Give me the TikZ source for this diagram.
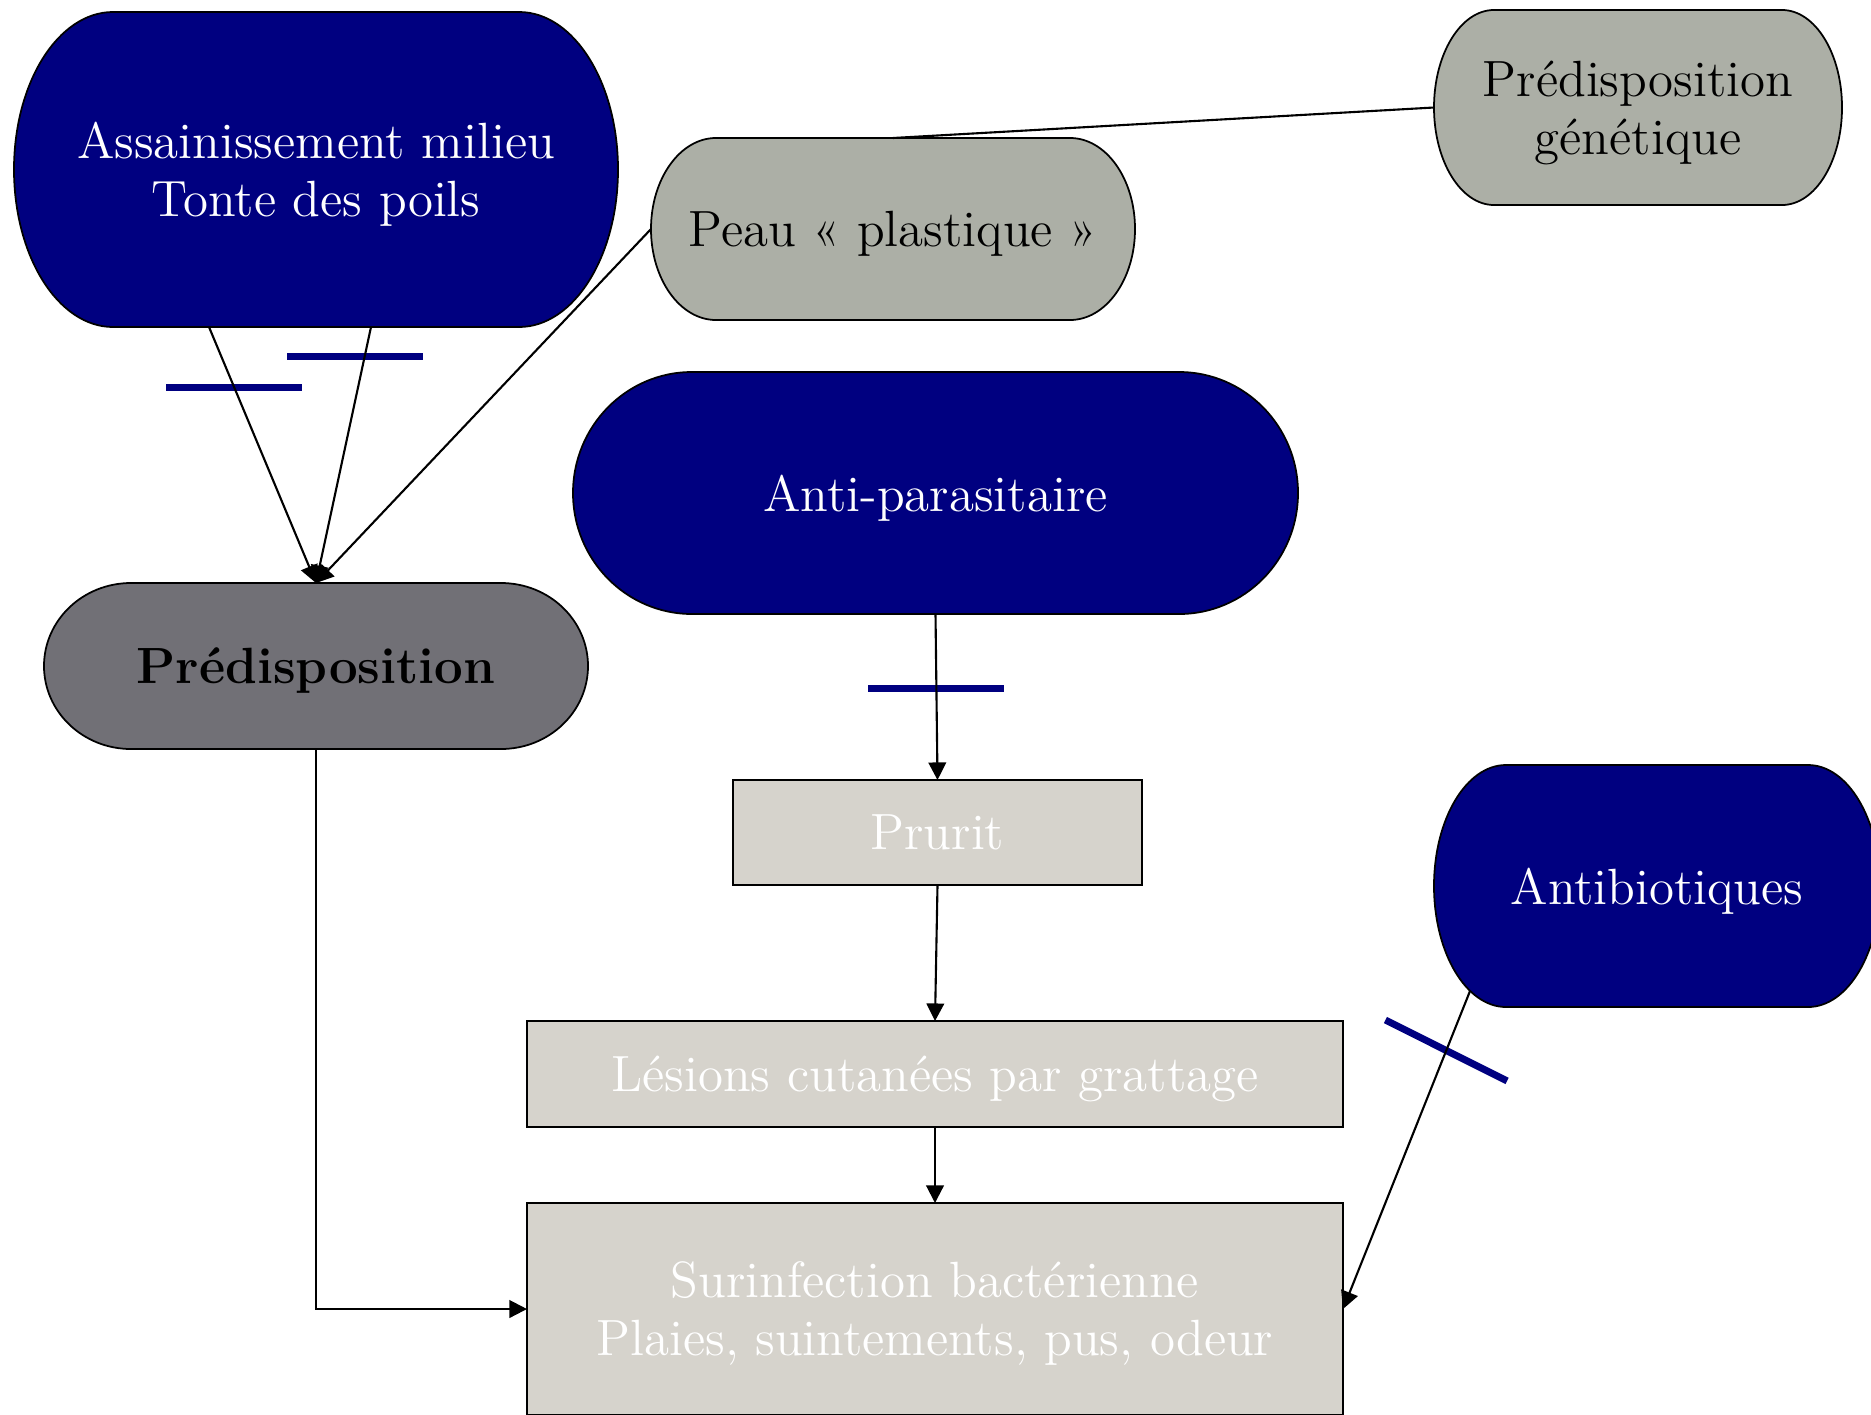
\documentclass[tikz,border=0pt]{standalone}
\usepackage{tikz}
\usetikzlibrary{arrows.meta, calc, backgrounds}

\definecolor{navyblue}{RGB}{0,0,128}
\definecolor{skingray}{RGB}{172,175,166}
\definecolor{preddark}{RGB}{113,112,118}
\definecolor{boxgray}{RGB}{214,211,204}

% oval with elliptic ends behind a node: node, x radius, y radius, colour
\newcommand{\drawoval}[4]{%
  \filldraw[fill=#4, draw=black, line width=0.5pt]
    (#1.north) -- ($(#1.north east)+(-#2,0)$)
    arc[start angle=90, end angle=-90, x radius=#2, y radius=#3]
    -- ($(#1.south west)+(#2,0)$)
    arc[start angle=270, end angle=90, x radius=#2, y radius=#3] -- cycle;}

\begin{document}
\begin{tikzpicture}[
    every node/.style={font=\fontsize{14.5}{16.5}\selectfont, align=center, inner sep=0pt, outer sep=0pt, text depth=0pt},
    box/.style={draw=black, line width=0.5pt, fill=boxgray, text=white},
    conn/.style={line width=0.6pt, -{Triangle[width=5pt, length=5pt]}},
    inhib/.style={fill=navyblue, minimum width=1.36cm, minimum height=0.07cm, inner sep=0pt, behind path}]
    \useasboundingbox (0,0) rectangle (18.71,-14.14);

    \node[minimum width=6.04cm, minimum height=3.15cm, text=white] (assain) at (3.16,-1.695) {Assainissement milieu\\Tonte des poils};
    \node[minimum width=4.84cm, minimum height=1.82cm] (peau) at (8.93,-2.29) {Peau « plastique »};
    \node[minimum width=4.08cm, minimum height=1.95cm] (genet) at (16.38,-1.075) {Prédisposition\\génétique};
    \node[minimum width=7.25cm, minimum height=2.42cm, text=white] (anti) at (9.355,-4.93) {Anti-parasitaire};
    \node[minimum width=5.44cm, minimum height=1.66cm, font=\fontsize{14.5}{16.5}\selectfont\bfseries] (pred) at (3.16,-6.66) {Prédisposition};
    \node[box, minimum width=4.09cm, minimum height=1.05cm] (prurit) at (9.375,-8.325) {Prurit};
    \node[box, minimum width=8.16cm, minimum height=1.06cm] (lesions) at (9.35,-10.74) {Lésions cutanées par grattage};
    \node[box, minimum width=8.16cm, minimum height=2.12cm] (surinf) at (9.35,-13.09) {Surinfection bactérienne\\Plaies, suintements, pus, odeur};
    \node[minimum width=4.46cm, minimum height=2.42cm, text=white] (antib) at (16.57,-8.86) {Antibiotiques};

    \begin{scope}[on background layer]
        \drawoval{assain}{0.99}{1.575}{navyblue}
        \drawoval{peau}{0.65}{0.91}{skingray}
        \drawoval{genet}{0.6}{0.975}{skingray}
        \drawoval{anti}{1.19}{1.21}{navyblue}
        \drawoval{pred}{0.87}{0.83}{preddark}
        \drawoval{antib}{0.72}{1.21}{navyblue}
    \end{scope}

    \draw[line width=0.6pt] (peau.north) -- (genet.west);
    \draw[conn] ([xshift=-1.07cm]assain.south) -- node[inhib, pos=0.236] {} (pred.north);
    \draw[conn] ([xshift=0.55cm]assain.south) -- node[inhib, pos=0.114, xshift=-1mm] {} (pred.north);
    \draw[conn] (peau.west) -- (pred.north);
    \draw[conn] (anti.south) -- node[inhib, pos=0.446] {} (prurit.north);
    \draw[conn] (prurit.south) -- (lesions.north);
    \draw[conn] (lesions.south) -- (surinf.north);
    \draw[conn] (pred.south) |- (surinf.west);
    \draw[conn] ([xshift=0.36cm, yshift=0.16cm]antib.south west) -- node[inhib, pos=0.187, rotate=-26.6] {} (surinf.east);
\end{tikzpicture}
\end{document}
